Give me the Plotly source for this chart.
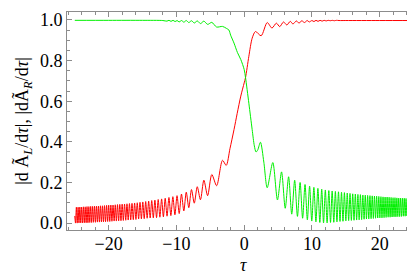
import plotly.graph_objects as go

# ---------------- data ----------------
# red curve |dA_R/dtau| : oscillating part for tau < -3 (extrema)
red_osc_tau = [-3.200, -4.065, -4.776, -5.394, -5.947, -6.454, -6.924, -7.364, -7.778, -8.172,
               -8.548, -8.908, -9.254, -9.588, -9.910, -10.222, -10.525, -10.819, -11.105, -11.385,
               -11.658, -11.924, -12.185, -12.440, -12.690, -12.935, -13.176, -13.412, -13.644, -13.873,
               -14.097, -14.318, -14.536, -14.751, -14.962, -15.171, -15.376, -15.579, -15.780, -15.977,
               -16.173, -16.366, -16.557, -16.745, -16.932, -17.117, -17.299, -17.480, -17.658, -17.836,
               -18.011, -18.184, -18.356, -18.527, -18.696, -18.863, -19.029, -19.193, -19.356, -19.518,
               -19.678, -19.837, -19.995, -20.151, -20.306, -20.461, -20.614, -20.766, -20.916, -21.066,
               -21.215, -21.362, -21.509, -21.654, -21.799, -21.943, -22.085, -22.227, -22.368, -22.508,
               -22.647, -22.785, -22.923, -23.059, -23.195, -23.330, -23.464, -23.598, -23.730, -23.863,
               -23.994, -24.124, -24.254, -24.384, -24.512, -24.640, -24.767, -24.894, -25.0]
red_osc_val = [0.309, 0.184, 0.239, 0.135, 0.211, 0.115, 0.179, 0.098, 0.165, 0.076,
               0.152, 0.060, 0.143, 0.047, 0.135, 0.041, 0.130, 0.037, 0.126, 0.034,
               0.122, 0.031, 0.119, 0.029, 0.116, 0.027, 0.113, 0.026, 0.111, 0.025,
               0.108, 0.024, 0.106, 0.022, 0.104, 0.021, 0.102, 0.020, 0.100, 0.018,
               0.099, 0.017, 0.097, 0.016, 0.096, 0.015, 0.095, 0.014, 0.094, 0.013,
               0.093, 0.012, 0.092, 0.011, 0.091, 0.010, 0.090, 0.010, 0.089, 0.009,
               0.089, 0.008, 0.088, 0.008, 0.087, 0.007, 0.086, 0.006, 0.085, 0.006,
               0.085, 0.005, 0.084, 0.005, 0.083, 0.004, 0.083, 0.004, 0.082, 0.003,
               0.082, 0.003, 0.081, 0.002, 0.081, 0.002, 0.080, 0.002, 0.080, 0.001,
               0.079, 0.001, 0.079, 0.001, 0.078, 0.000, 0.078, 0.000, 0.035]
# red curve: rise through the crossing and small wiggles near 1
red_main_tau = [-2.65, -2.1, -1.5, -1.03, -0.5, 0.0, 0.2, 0.69, 1.18, 1.67, 2.5, 3.4, 4.1, 4.75,
                5.25, 5.8, 6.3, 6.8, 7.2, 7.7, 8.1, 8.5, 8.9, 9.3, 9.6, 10.0, 10.3, 10.6, 10.9,
                11.2, 11.5, 11.8, 12.1, 12.4, 12.7, 13.0, 13.3, 13.6, 14.0, 15.0, 20.0, 25.0]
red_main_val = [0.284, 0.366, 0.460, 0.540, 0.625, 0.690, 0.716, 0.821, 0.910, 0.943, 0.922, 0.987,
                0.960, 0.984, 0.967, 0.990, 0.975, 0.993, 0.980, 0.995, 0.984, 0.996, 0.987, 0.997,
                0.990, 0.997, 0.992, 0.998, 0.993, 0.998, 0.994, 0.998, 0.995, 0.998, 0.996, 0.998,
                0.996, 0.998, 0.997, 0.997, 0.997, 0.997]

# green curve |dA_L/dtau| : near 1 on the left, drop through the crossing
green_main_tau = [-25.0, -20.0, -15.0, -12.0, -11.4, -11.1, -10.8, -10.5, -10.2, -9.9, -9.6, -9.25,
                  -8.9, -8.55, -8.17, -7.78, -7.36, -6.92, -6.45, -5.95, -5.39, -4.78, -4.07, -3.2,
                  -2.6, -2.25, -2.0, -1.5, -1.0, -0.5, 0.0, 0.2, 0.69, 1.18, 1.5, 1.75, 2.0, 2.4, 2.9]
green_main_val = [0.998, 0.998, 0.998, 0.997, 0.994, 0.998, 0.993, 0.998, 0.992, 0.997, 0.990, 0.997,
                  0.989, 0.997, 0.987, 0.996, 0.985, 0.995, 0.982, 0.994, 0.978, 0.988, 0.965, 0.968,
                  0.958, 0.950, 0.925, 0.886, 0.840, 0.805, 0.756, 0.716, 0.590, 0.460, 0.380, 0.350,
                  0.360, 0.398, 0.300]
# green curve: oscillating part for tau > 3 (extrema)
green_osc_tau = [3.400, 4.224, 4.912, 5.515, 6.058, 6.556, 7.019, 7.453, 7.863, 8.253,
                 8.625, 8.982, 9.325, 9.656, 9.976, 10.286, 10.587, 10.880, 11.165, 11.443,
                 11.714, 11.979, 12.239, 12.493, 12.742, 12.986, 13.226, 13.461, 13.692, 13.920,
                 14.144, 14.364, 14.582, 14.795, 15.006, 15.214, 15.419, 15.621, 15.821, 16.019,
                 16.214, 16.406, 16.597, 16.785, 16.971, 17.155, 17.337, 17.517, 17.696, 17.873,
                 18.047, 18.221, 18.392, 18.562, 18.731, 18.898, 19.063, 19.227, 19.390, 19.551,
                 19.711, 19.870, 20.028, 20.184, 20.339, 20.493, 20.646, 20.797, 20.947, 21.097,
                 21.246, 21.393, 21.539, 21.685, 21.829, 21.973, 22.115, 22.256, 22.397, 22.537,
                 22.676, 22.814, 22.951, 23.088, 23.224, 23.358, 23.493, 23.626, 23.759, 23.890,
                 24.021, 24.152, 24.282, 24.411, 24.539, 24.667, 24.794, 24.920, 25.0]
green_osc_val = [0.174, 0.298, 0.114, 0.252, 0.073, 0.228, 0.044, 0.211, 0.033, 0.200,
                 0.024, 0.190, 0.016, 0.182, 0.010, 0.176, 0.006, 0.171, 0.003, 0.167,
                 0.001, 0.163, 0.001, 0.160, 0.003, 0.158, 0.004, 0.156, 0.006, 0.154,
                 0.008, 0.152, 0.009, 0.150, 0.011, 0.148, 0.012, 0.146, 0.013, 0.144,
                 0.014, 0.143, 0.015, 0.141, 0.016, 0.140, 0.017, 0.138, 0.019, 0.137,
                 0.020, 0.136, 0.021, 0.135, 0.022, 0.134, 0.023, 0.133, 0.024, 0.132,
                 0.025, 0.131, 0.026, 0.130, 0.026, 0.129, 0.027, 0.128, 0.028, 0.128,
                 0.029, 0.127, 0.029, 0.126, 0.030, 0.125, 0.031, 0.125, 0.031, 0.124,
                 0.032, 0.123, 0.032, 0.123, 0.033, 0.122, 0.034, 0.122, 0.034, 0.121,
                 0.035, 0.121, 0.035, 0.120, 0.036, 0.120, 0.036, 0.119, 0.080]

x_tick_vals = [-20, -10, 0, 10, 20]
y_tick_vals = [0.0, 0.2, 0.4, 0.6, 0.8, 1.0]
x_title = "<i>τ</i>"
y_title = "|d Ã<sub><i>L</i></sub>/d<i>τ</i>|, |dÃ<sub><i>R</i></sub>/d<i>τ</i>|"


def ordered(taus, vals):
    pairs = sorted(zip(taus, vals))
    return [p[0] for p in pairs], [p[1] for p in pairs]


red_x, red_y = ordered(red_osc_tau + red_main_tau, red_osc_val + red_main_val)
green_x, green_y = ordered(green_main_tau + green_osc_tau, green_main_val + green_osc_val)

fig = go.Figure()
fig.add_trace(go.Scatter(x=red_x, y=red_y, mode="lines",
                         line=dict(color="#ff0000", width=1, shape="spline", smoothing=0.8),
                         showlegend=False, hoverinfo="skip"))
fig.add_trace(go.Scatter(x=green_x, y=green_y, mode="lines",
                         line=dict(color="#00f000", width=1, shape="spline", smoothing=0.8),
                         showlegend=False, hoverinfo="skip"))

font_family = "Liberation Serif"
axis_common = dict(
    showgrid=False, zeroline=False, showline=True, linecolor="#8c8c8c", linewidth=1,
    mirror="allticks", ticks="inside", tickcolor="#8c8c8c", ticklen=5, tickwidth=1,
    tickfont=dict(family=font_family, size=18, color="black"),
)

fig.update_xaxes(
    range=[-26.15, 25.95], tickvals=x_tick_vals, ticklabelstandoff=-3,
    minor=dict(dtick=2, ticks="inside", ticklen=3, tickcolor="#8c8c8c", showgrid=False),
    **axis_common)
fig.update_yaxes(
    range=[-0.034, 1.039], tickvals=y_tick_vals, tickformat=".1f",
    minor=dict(dtick=0.05, ticks="inside", ticklen=3, tickcolor="#8c8c8c", showgrid=False),
    title=dict(text=y_title, font=dict(family=font_family, size=18, color="black"), standoff=6),
    **axis_common)

fig.add_annotation(text=x_title, xref="paper", yref="paper", x=0.5, y=-0.16,
                   xanchor="center", yanchor="middle", showarrow=False,
                   font=dict(family=font_family, size=18, color="black"))

fig.update_layout(
    width=415, height=274,
    margin=dict(l=59, r=2, t=2, b=52),
    paper_bgcolor="white", plot_bgcolor="white",
    font=dict(family=font_family),
)

fig.write_html("out.html")
